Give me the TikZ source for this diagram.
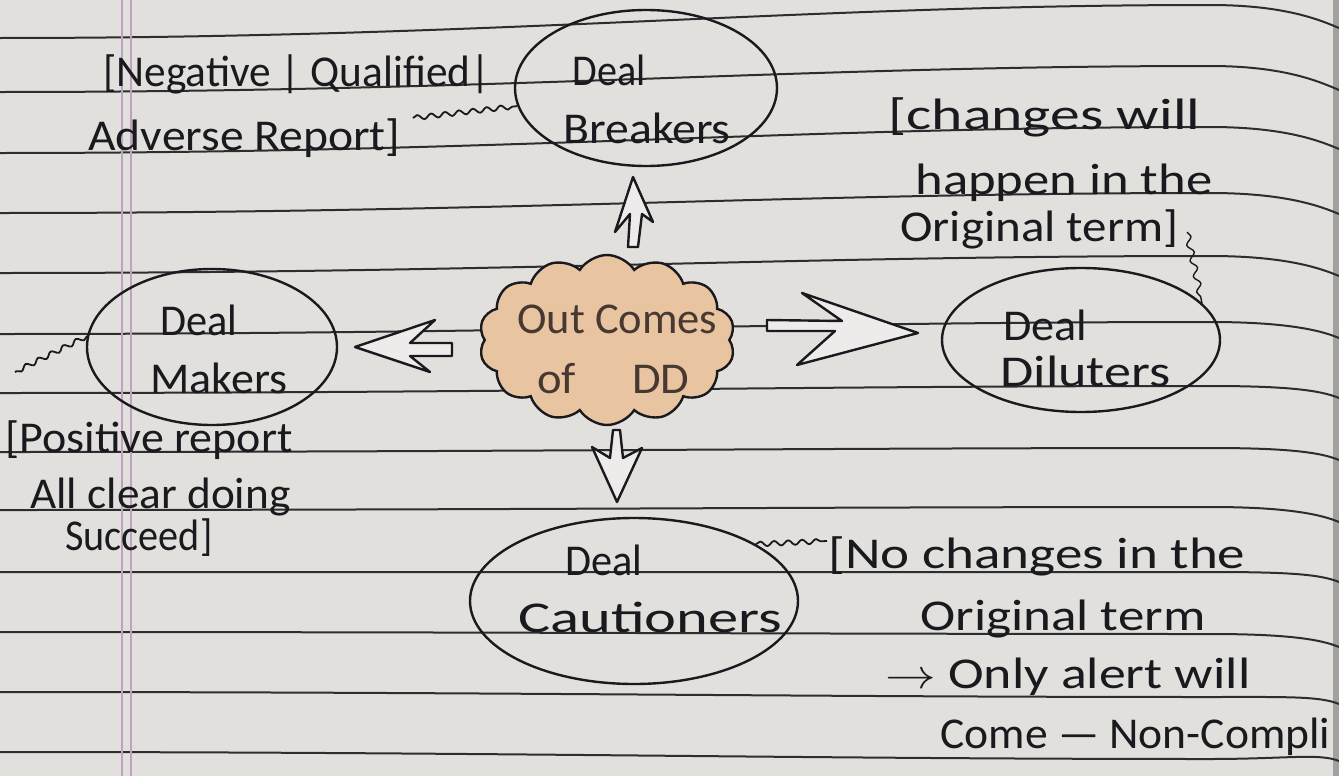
\documentclass[tikz,border=0pt]{standalone}
\usepackage{fontspec}
\setmainfont{Carlito}
\usetikzlibrary{shapes.geometric,shapes.symbols,decorations.pathmorphing}

\definecolor{paper}{RGB}{226,224,221}
\definecolor{rule}{RGB}{45,45,48}
\definecolor{ink}{RGB}{25,25,30}
\definecolor{margin}{RGB}{192,162,192}
\definecolor{peach}{RGB}{232,196,160}
\definecolor{ddink}{RGB}{72,56,50}

% squeeze or stretch a line of writing to a given width (pt), height unchanged
\newcommand\fitto[2]{\resizebox{#1pt}{\height}{#2}}

\tikzset{
  hand/.style={font=\fontsize{22}{26}\selectfont, text=ink, inner sep=0pt, anchor=base west},
  ruleline/.style={draw=rule, line width=1pt},
  bubble/.style={ellipse, draw=ink, line width=1.2pt, inner sep=0pt},
  blockarrow/.style={draw=ink, line width=1.2pt, fill=paper!60!white, line join=round},
  wiggle/.style={draw=ink, line width=0.9pt, decorate,
    decoration={snake, amplitude=1.2pt, segment length=7pt}},
}

\begin{document}
\begin{tikzpicture}[x=0.5pt, y=-0.5pt]
\useasboundingbox (0,0) rectangle (1339,776);
\fill[paper] (0,0) rectangle (1339,776);

% ruled lines of the notebook page (the page curls a little at the right edge)
\foreach \a/\e/\f in {38/5/28, 92/66/90, 153/127/149, 213/193/214, 273/256/276,
  334/322/338, 393/386/398, 452/448/460, 510/507/522, 572/572/582,
  632/634/647, 692/697/704, 752/759/761}
  \draw[ruleline] (0,\a) .. controls (500,\a) and (800,\e) .. (1210,\e)
    .. controls (1285,\e) and (1320,\f-8) .. (1339,\f);

% margin (double line)
\draw[margin, line width=1pt] (122,0) -- (122,776);
\draw[margin, line width=1pt] (131,0) -- (131,776);

% shadow along the page edge
\fill[rule, opacity=0.35] (1333,0) rectangle (1339,776);

% central cloud
\node[cloud, cloud puffs=14, cloud puff arc=115, cloud ignores aspect,
  minimum width=128pt, minimum height=85pt, draw=ink, line width=1.2pt,
  fill=peach] (dd) at (607,340) {};
\node[hand, text=ddink] (dd1) at (517,333) {\fitto{100}{Out Comes}};
\node[hand, text=ddink] (dd2) at (537,393) {\fitto{76}{of\hspace{1.2em}DD}};

% outcome bubbles
\node[bubble, minimum width=131pt, minimum height=78pt] (brk) at (646,88) {};
\node[bubble, minimum width=139pt, minimum height=72pt] (dil) at (1081,340) {};
\node[bubble, minimum width=125pt, minimum height=78pt] (mak) at (212,347) {};
\node[bubble, minimum width=164pt, minimum height=83pt] (cau) at (634,601) {};

\node[hand] (brk1) at (572,85)  {\fitto{36.5}{Deal}};
\node[hand] (brk2) at (563,143) {\fitto{83.5}{Breakers}};
\node[hand] (dil1) at (1003,340) {\fitto{42}{Deal}};
\node[hand] (dil2) at (1000,386) {\fitto{85}{Diluters}};
\node[hand] (mak1) at (160,335) {\fitto{38.5}{Deal}};
\node[hand] (mak2) at (150,393) {\fitto{68.5}{Makers}};
\node[hand] (cau1) at (565,575) {\fitto{38.5}{Deal}};
\node[hand] (cau2) at (518,632) {\fitto{132}{Cautioners}};

% hollow arrows out of the cloud
\draw[blockarrow] (633,177) -- (653,222) -- (642,214) -- (638,247) -- (628,247)
  -- (630,214) -- (615,232) -- cycle;
\draw[blockarrow] (355,347) -- (435,320) -- (410,343) -- (452,343) -- (452,356)
  -- (410,356) -- (430,372) -- cycle;
\draw[blockarrow] (767,320) -- (842,321) -- (802,293) -- (918,333) -- (797,365)
  -- (835,331) -- (767,331) -- cycle;
\draw[blockarrow] (613,430) -- (620,430) -- (623,458) -- (642,448) -- (617,502)
  -- (592,447) -- (610,458) -- cycle;

% notes
\node[hand] (neg1) at (103,86)  {\fitto{193.5}{[Negative | Qualified|}};
\node[hand] (neg2) at (88,150)  {\fitto{156}{Adverse Report]}};
\node[hand] (chg1) at (888,129) {\fitto{156}{[changes will}};
\node[hand] (chg2) at (915,194) {\fitto{148.5}{happen in the}};
\node[hand] (chg3) at (900,241) {\fitto{139}{Original term]}};
\node[hand] (pos1) at (5,452)   {\fitto{143.5}{[Positive report}};
\node[hand] (pos2) at (30,508)  {\fitto{130}{All clear doing}};
\node[hand] (pos3) at (65,550)  {\fitto{73.5}{Succeed]}};
\node[hand] (nc1) at (828,568)  {\fitto{208.5}{[No changes in the}};
\node[hand] (nc2) at (920,630)  {\fitto{142.5}{Original term}};
\node[hand] (nc3) at (885,688)  {\fitto{182.5}{\ensuremath{\rightarrow} Only alert will}};
\node[hand] (nc4) at (940,748)  {\fitto{195}{Come — Non-Compli}};

% wavy leaders from notes to bubbles
\coordinate (negEnd) at (413,118);
\coordinate (chgEnd) at (1187,232);
\coordinate (posEnd) at (15,372);
\coordinate (ncEnd)  at (827,541);
\draw[wiggle] (negEnd) -- (brk.188);
\draw[wiggle, line width=0.7pt, decoration={snake, amplitude=1.5pt, segment length=8pt}]
  (chgEnd) -- (dil.17);
\draw[wiggle] (mak.175) -- (posEnd);
\draw[wiggle] (cau.25) -- (ncEnd);
\end{tikzpicture}
\end{document}
